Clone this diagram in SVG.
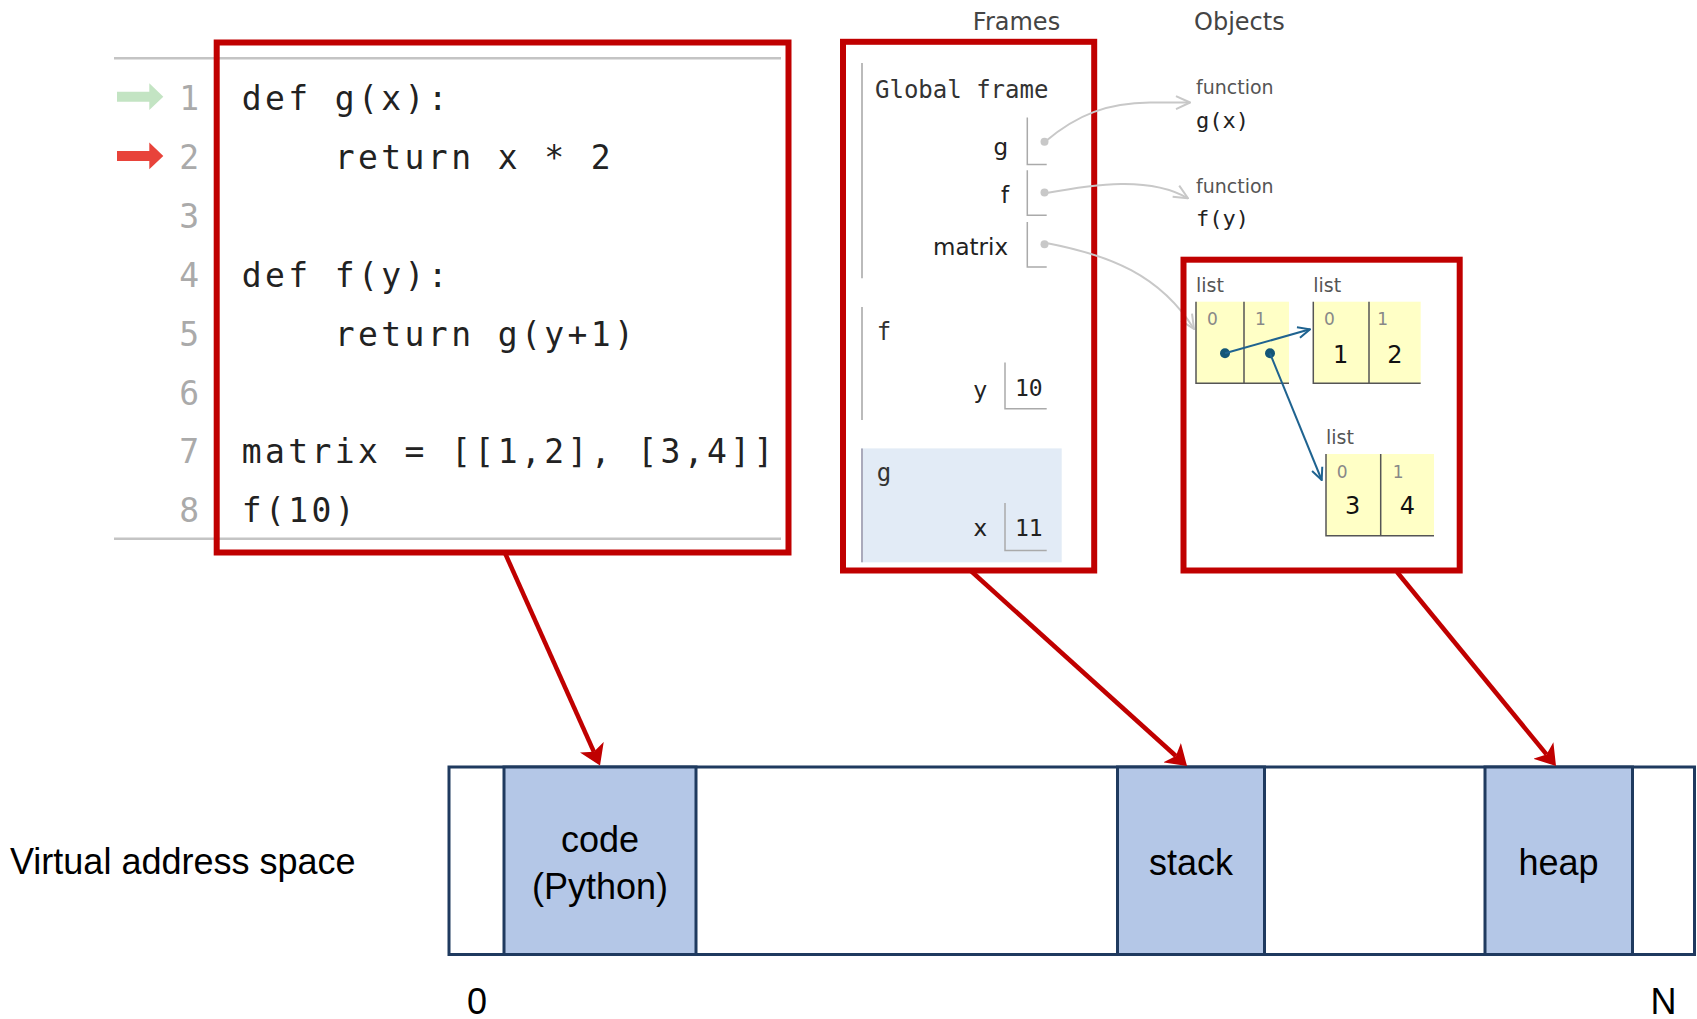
<svg xmlns="http://www.w3.org/2000/svg" width="1697" height="1019" viewBox="0 0 1697 1019">
<style>
.code{font-family:"DejaVu Sans Mono","Liberation Mono",monospace;font-size:33px;fill:#222;letter-spacing:3.4px}
.lno{font-family:"DejaVu Sans Mono","Liberation Mono",monospace;font-size:33px;fill:#aaa;text-anchor:end}
.hdr{font-family:"DejaVu Sans",Verdana,sans-serif;font-size:24px;fill:#444}
.fmono{font-family:"DejaVu Sans Mono","Liberation Mono",monospace;font-size:24px;fill:#333}
.var{font-family:"DejaVu Sans",Verdana,sans-serif;font-size:23px;fill:#222;text-anchor:end}
.val{font-family:"DejaVu Sans Mono","Liberation Mono",monospace;font-size:23px;fill:#222}
.small{font-family:"DejaVu Sans",Verdana,sans-serif;font-size:19px;fill:#555}
.fname{font-family:"DejaVu Sans Mono","Liberation Mono",monospace;font-size:22px;fill:#222}
.idx{font-family:"DejaVu Sans",Verdana,sans-serif;font-size:17px;fill:#888}
.lval{font-family:"DejaVu Sans",Verdana,sans-serif;font-size:24px;fill:#111;text-anchor:middle}
.vbox{fill:none;stroke:#aaa;stroke-width:1.5}
.cell{fill:#ffffc6}
.cellb{fill:none;stroke:#555;stroke-width:1.5}
.redbox{fill:none;stroke:#c00000;stroke-width:6}
.blk{fill:#b4c7e7;stroke:#1f3a5f;stroke-width:3}
.lbl{font-family:"Liberation Sans",Arial,sans-serif;font-size:36px;fill:#000}
.gray{fill:none;stroke:#c8c8c8;stroke-width:2}
.teal{fill:none;stroke:#1f6390;stroke-width:2}
.red{fill:none;stroke:#c00000;stroke-width:4.5}
</style>
<defs>
<marker id="mg" viewBox="0 0 16 16" refX="15" refY="8" markerWidth="16" markerHeight="16" markerUnits="userSpaceOnUse" orient="auto">
<path d="M1,1.5 L15,8 L1,14.5" fill="none" stroke="#c8c8c8" stroke-width="2"/>
</marker>
<marker id="mt" viewBox="0 0 14 14" refX="13" refY="7" markerWidth="14" markerHeight="14" markerUnits="userSpaceOnUse" orient="auto">
<path d="M1,1.5 L13,7 L1,12.5" fill="none" stroke="#1f6390" stroke-width="2"/>
</marker>
<marker id="mr" viewBox="0 0 20 26" refX="5" refY="13" markerWidth="20" markerHeight="26" markerUnits="userSpaceOnUse" orient="auto">
<path d="M0,0 L20,13 L0,26 L5,13 Z" fill="#c00000"/>
</marker>
</defs>
<rect width="1697" height="1019" fill="#fff"/>

<g id="code-panel">
<line x1="114" y1="58.3" x2="781" y2="58.3" stroke="#c4c4c4" stroke-width="2.5"/>
<line x1="114" y1="538.8" x2="781" y2="538.8" stroke="#c4c4c4" stroke-width="2.5"/>
<polygon points="117,91.7 149.3,91.7 149.3,83.3 163.3,96.7 149.3,110 149.3,101.7 117,101.7" fill="#c3e4c3"/>
<polygon points="117,151 149.3,151 149.3,142.6 163.3,156 149.3,169.3 149.3,161 117,161" fill="#e8433a"/>
<text class="lno" x="199" y="110">1</text>
<text class="lno" x="199" y="168.9">2</text>
<text class="lno" x="199" y="227.8">3</text>
<text class="lno" x="199" y="286.7">4</text>
<text class="lno" x="199" y="345.6">5</text>
<text class="lno" x="199" y="404.5">6</text>
<text class="lno" x="199" y="463.4">7</text>
<text class="lno" x="199" y="522.3">8</text>
<text class="code" x="241.7" y="110">def g(x):</text>
<text class="code" x="334.8" y="168.9">return x * 2</text>
<text class="code" x="241.7" y="286.7">def f(y):</text>
<text class="code" x="334.8" y="345.6">return g(y+1)</text>
<text class="code" x="241.7" y="463.4">matrix = [[1,2], [3,4]]</text>
<text class="code" x="241.7" y="522.3">f(10)</text>
<rect class="redbox" x="216.7" y="42.5" width="571.8" height="510" stroke-width="5.5"/>
</g>

<g id="headers">
<text class="hdr" x="1016.5" y="29.6" text-anchor="middle">Frames</text>
<text class="hdr" x="1194" y="29.6">Objects</text>
</g>

<g id="frames-panel">
<line x1="862" y1="62.9" x2="862" y2="278.2" stroke="#bbb" stroke-width="2"/>
<text class="fmono" x="875" y="98">Global frame</text>
<text class="var" x="1008" y="155.4">g</text>
<path class="vbox" d="M1027.3,117.6 V164.6 H1046.7"/>
<circle cx="1044.5" cy="141.7" r="4" fill="#c8c8c8"/>
<text class="var" x="1009" y="202.7">f</text>
<path class="vbox" d="M1027.3,170.2 V215.3 H1046.7"/>
<circle cx="1044.5" cy="192.4" r="4" fill="#c8c8c8"/>
<text class="var" x="1008" y="255.3">matrix</text>
<path class="vbox" d="M1027.3,222 V267.1 H1046.7"/>
<circle cx="1044.5" cy="244.2" r="4" fill="#c8c8c8"/>

<line x1="862" y1="307" x2="862" y2="420" stroke="#bbb" stroke-width="2"/>
<text class="fmono" x="876.7" y="340.4">f</text>
<text class="var" x="987" y="397.7">y</text>
<path class="vbox" d="M1005,362.6 V408.8 H1046.7"/>
<text class="val" x="1015" y="396">10</text>

<rect x="861" y="448.4" width="200.7" height="113.9" fill="#e2ebf6"/>
<line x1="862" y1="448.4" x2="862" y2="562.3" stroke="#aab" stroke-width="2"/>
<text class="fmono" x="876.7" y="481">g</text>
<text class="var" x="987" y="536.4">x</text>
<path class="vbox" d="M1005,503.1 V550.5 H1046.7"/>
<text class="val" x="1015" y="536">11</text>
<rect class="redbox" x="843" y="41.8" width="251.2" height="528.7"/>
</g>

<g id="function-g">
<text class="small" x="1196" y="94.3">function</text>
<text class="fname" x="1196" y="127.6">g(x)</text>
</g>
<g id="function-f">
<text class="small" x="1196" y="193.1">function</text>
<text class="fname" x="1196" y="225.7">f(y)</text>
</g>

<g id="heap-panel">
<g id="list-outer">
<text class="small" x="1196" y="292.3">list</text>
<rect class="cell" x="1196" y="301.7" width="93" height="81.6"/>
<path class="cellb" d="M1196,301.7 V383.3 H1289 M1244,301.7 V383.3"/>
<text class="idx" x="1207" y="325">0</text>
<text class="idx" x="1255" y="325">1</text>
<circle cx="1225" cy="353.3" r="5" fill="#145677"/>
<circle cx="1270" cy="353.3" r="5" fill="#145677"/>
</g>
<g id="list-12">
<text class="small" x="1313.3" y="292.3">list</text>
<rect class="cell" x="1313.3" y="301.7" width="107.4" height="81.6"/>
<path class="cellb" d="M1313.3,301.7 V383.3 H1420.7 M1369,301.7 V383.3"/>
<text class="idx" x="1324" y="325">0</text>
<text class="idx" x="1377.3" y="325">1</text>
<text class="lval" x="1340.7" y="363.3">1</text>
<text class="lval" x="1395" y="363.3">2</text>
</g>
<g id="list-34">
<text class="small" x="1326" y="444">list</text>
<rect class="cell" x="1326" y="454" width="108" height="81.7"/>
<path class="cellb" d="M1326,454 V535.7 H1434 M1380.7,454 V535.7"/>
<text class="idx" x="1336.7" y="477.7">0</text>
<text class="idx" x="1392.7" y="477.7">1</text>
<text class="lval" x="1352.7" y="514.3">3</text>
<text class="lval" x="1407.3" y="514.3">4</text>
</g>
</g>

<g id="address-space">
<text class="lbl" x="10" y="874">Virtual address space</text>
<rect x="449" y="767" width="1245.5" height="187.5" fill="#fff" stroke="#1f3a5f" stroke-width="3"/>
<g id="block-code">
<rect class="blk" x="504" y="767" width="192" height="187.5"/>
<text class="lbl" x="600" y="851.7" text-anchor="middle">code</text>
<text class="lbl" x="600" y="899" text-anchor="middle">(Python)</text>
</g>
<g id="block-stack">
<rect class="blk" x="1117.5" y="767" width="147" height="187.5"/>
<text class="lbl" x="1191" y="875" text-anchor="middle">stack</text>
</g>
<g id="block-heap">
<rect class="blk" x="1485" y="767" width="147.5" height="187.5"/>
<text class="lbl" x="1558.5" y="875" text-anchor="middle">heap</text>
</g>
<text class="lbl" x="477" y="1014" text-anchor="middle">0</text>
<text class="lbl" x="1663.5" y="1014" text-anchor="middle">N</text>
</g>

<g id="connectors">
<path class="gray" d="M1045,141.7 C1078,114 1108,103 1150,102.6 L1190,102.5" marker-end="url(#mg)"/>
<path class="gray" d="M1045,193.3 C1095,184 1150,176 1188,198.3" marker-end="url(#mg)"/>
<path class="gray" d="M1045,242.7 C1110,255 1160,275 1194,329" marker-end="url(#mg)"/>
<line class="teal" x1="1225" y1="353.3" x2="1310" y2="329.3" marker-end="url(#mt)"/>
<line class="teal" x1="1270" y1="353.3" x2="1321.7" y2="480" marker-end="url(#mt)"/>
<line class="red" x1="505" y1="553" x2="593.9" y2="751.8" marker-end="url(#mr)"/>
<line class="red" x1="971" y1="571" x2="1175.9" y2="756" marker-end="url(#mr)"/>
<line class="red" x1="1397" y1="572" x2="1546.5" y2="754.4" marker-end="url(#mr)"/>
</g>
<rect class="redbox" x="1183.5" y="259.7" width="276.2" height="310.8"/>
</svg>
